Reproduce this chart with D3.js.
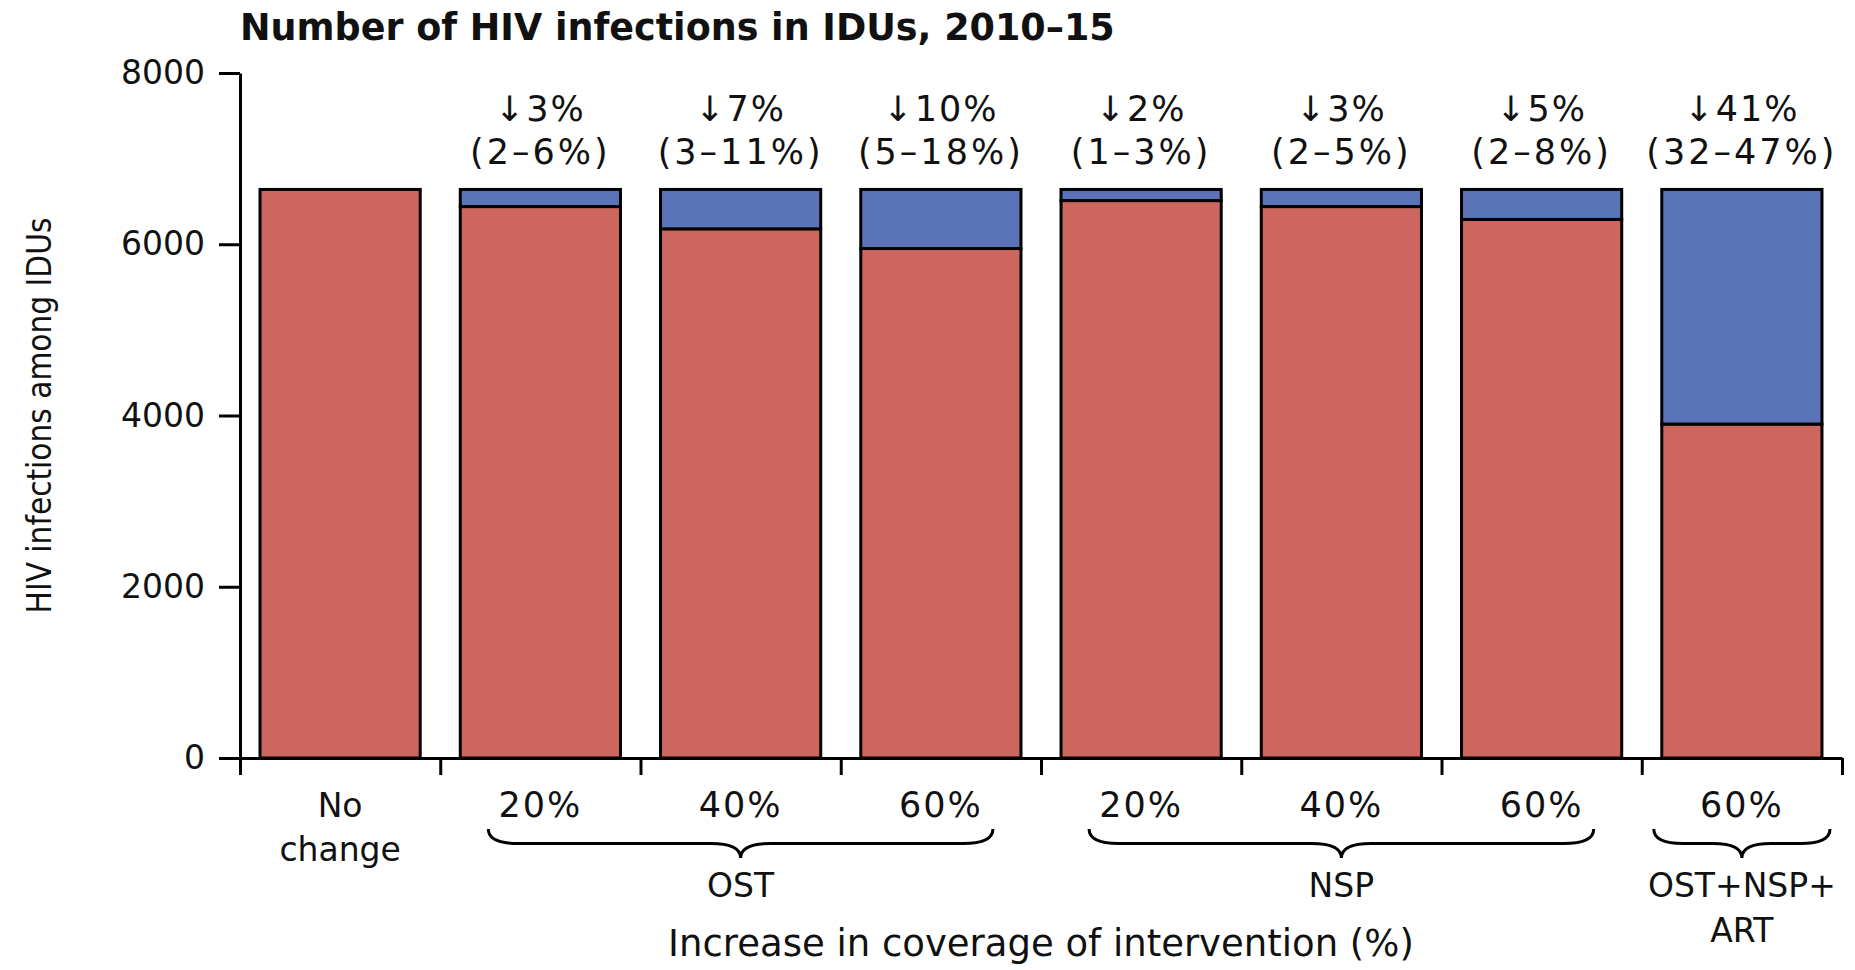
<!DOCTYPE html>
<html>
<head>
<meta charset="utf-8">
<script src="https://cdn.jsdelivr.net/npm/d3@7"></script>
<style>
  body { margin: 0; background: #fff; }
  svg text { font-family: "DejaVu Sans", sans-serif; fill: #111; }
</style>
</head>
<body>
<svg id="chart" width="1855" height="970"></svg>
<script>
// data
const categories = ["No change", "OST 20%", "OST 40%", "OST 60%", "NSP 20%", "NSP 40%", "NSP 60%", "ALL 60%"];
const tickLabels = [["No", "change"], ["20%"], ["40%"], ["60%"], ["20%"], ["40%"], ["60%"], ["60%"]];
const remaining = [6640, 6440, 6180, 5950, 6510, 6440, 6290, 3900]; // red part
const averted = [0, 200, 460, 690, 130, 200, 350, 2740];            // blue part
const reductions = ["", "↓3%", "↓7%", "↓10%", "↓2%", "↓3%", "↓5%", "↓41%"];
const ranges = ["", "(2–6%)", "(3–11%)", "(5–18%)", "(1–3%)", "(2–5%)", "(2–8%)", "(32–47%)"];
const groupNames = [["OST"], ["NSP"], ["OST+NSP+", "ART"]];
const groupFirst = [1, 4, 7];
const groupLast = [3, 6, 7];
const yTicks = [0, 2000, 4000, 6000, 8000];

const margin = {top: 73, right: 13, bottom: 212, left: 240}
const W = 1855, H = 970
const svg = d3.select("#chart")

let x = d3.scaleBand()
    .domain(categories)
    .range([margin.left, W - margin.right])
    .paddingInner(0.2)
    .paddingOuter(0.1)
let y = d3.scaleLinear().domain([0, 8000]).range([H - margin.bottom, margin.top])
// edges of the category slots, for the x ticks between bars
let xEdge = d3.scaleLinear().domain([0, categories.length]).range([margin.left, W - margin.right])

let table = categories.map((c, i) => ({cat: c, remaining: remaining[i], averted: averted[i]}))
let series = d3.stack().keys(["remaining", "averted"])(table)
const colors = {remaining: "#cc665e", averted: "#5b74b7"}

svg.append("g").selectAll("g")
  .data(series)
  .join("g")
    .attr("fill", d => colors[d.key])
  .selectAll("rect")
  .data(d => d.filter(p => p[1] > p[0]))
  .join("rect")
    .attr("x", d => x(d.data.cat))
    .attr("width", x.bandwidth())
    .attr("y", d => y(d[1]))
    .attr("height", d => y(d[0]) - y(d[1]))
    .attr("stroke", "#000")
    .attr("stroke-width", 3)

// y axis
let yAxis = svg.append("g")
    .attr("transform", "translate(" + margin.left + ",0)")
    .call(d3.axisLeft(y).tickValues(yTicks).tickFormat(d3.format("d")).tickSize(21).tickSizeOuter(0).tickPadding(14))
yAxis.select(".domain").attr("stroke-width", 3)
yAxis.selectAll(".tick line").attr("stroke-width", 3)
yAxis.selectAll("text").style("font-size", "33px").style("font-family", "DejaVu Sans").attr("fill", "#111")

// x axis: ticks sit between categories
let xAxis = svg.append("g")
    .attr("transform", "translate(0," + y(0) + ")")
    .call(d3.axisBottom(xEdge).ticks(categories.length).tickFormat("").tickSize(17).tickSizeOuter(0))
xAxis.select(".domain").attr("stroke-width", 3)
xAxis.selectAll(".tick line").attr("stroke-width", 3)

// category labels
let catLabels = svg.append("g").selectAll("text")
  .data(tickLabels)
  .join("text")
    .attr("text-anchor", "middle")
    .attr("x", (d, i) => x(categories[i]) + x.bandwidth() / 2)
    .attr("y", 817)
    .style("font-size", d => d.length > 1 ? "33px" : "35px")
    .style("letter-spacing", d => d.length > 1 ? "0px" : "2px")
catLabels.selectAll("tspan")
  .data(d => d)
  .join("tspan")
    .attr("x", function() { return this.parentNode.getAttribute("x") })
    .attr("dy", (d, i) => i ? 44 : 0)
    .text(d => d)

// reduction annotations above bars
svg.append("g").selectAll("text")
  .data(reductions)
  .join("text")
    .attr("text-anchor", "middle")
    .attr("x", (d, i) => x(categories[i]) + x.bandwidth() / 2)
    .attr("y", 121)
    .style("font-size", "35px")
    .style("letter-spacing", "2px")
    .text(d => d)
svg.append("g").selectAll("text")
  .data(ranges)
  .join("text")
    .attr("text-anchor", "middle")
    .attr("x", (d, i) => x(categories[i]) + x.bandwidth() / 2)
    .attr("y", 164)
    .style("font-size", "35px")
    .style("letter-spacing", "3px")
    .text(d => d)

// curly braces under groups
function brace(x1, x2, y0, h) {
  let xm = (x1 + x2) / 2, r = h / 2, k = Math.min(30, (x2 - x1) / 6)
  return "M" + x1 + "," + y0 +
    " Q" + x1 + "," + (y0 + r) + " " + (x1 + k) + "," + (y0 + r) +
    " L" + (xm - k) + "," + (y0 + r) +
    " Q" + xm + "," + (y0 + r) + " " + xm + "," + (y0 + h) +
    " Q" + xm + "," + (y0 + r) + " " + (xm + k) + "," + (y0 + r) +
    " L" + (x2 - k) + "," + (y0 + r) +
    " Q" + x2 + "," + (y0 + r) + " " + x2 + "," + y0
}
let step = x.step()
groupNames.forEach((g, i) => {
  let c0 = x(categories[groupFirst[i]]) + x.bandwidth() / 2
  let c1 = x(categories[groupLast[i]]) + x.bandwidth() / 2
  let inset = groupFirst[i] == groupLast[i] ? step * 0.44 : step * 0.26
  svg.append("path")
    .attr("d", brace(c0 - inset, c1 + inset, 829, 29))
    .attr("fill", "none")
    .attr("stroke", "#000")
    .attr("stroke-width", 3)
  let t = svg.append("text")
    .attr("text-anchor", "middle")
    .attr("x", (c0 + c1) / 2)
    .attr("y", 897)
    .style("font-size", "33px")
  g.forEach((line, j) => {
    t.append("tspan").attr("x", (c0 + c1) / 2).attr("dy", j ? 45 : 0).text(line)
  })
})

// titles
svg.append("text")
  .attr("x", margin.left)
  .attr("y", 40)
  .style("font-size", "36.5px")
  .style("font-weight", "bold")
  .text("Number of HIV infections in IDUs, 2010–15")

svg.append("text")
  .attr("x", (margin.left + W - margin.right) / 2)
  .attr("y", 956)
  .attr("text-anchor", "middle")
  .style("font-size", "37px")
  .text("Increase in coverage of intervention (%)")

svg.append("text")
  .attr("transform", "translate(41," + y(4000) + ") rotate(-90)")
  .attr("text-anchor", "middle")
  .attr("dominant-baseline", "middle")
  .style("font-family", "'Liberation Sans Narrow', 'DejaVu Sans Condensed', sans-serif")
  .style("font-stretch", "condensed")
  .style("font-size", "33px")
  .text("HIV infections among IDUs")
</script>
</body>
</html>
